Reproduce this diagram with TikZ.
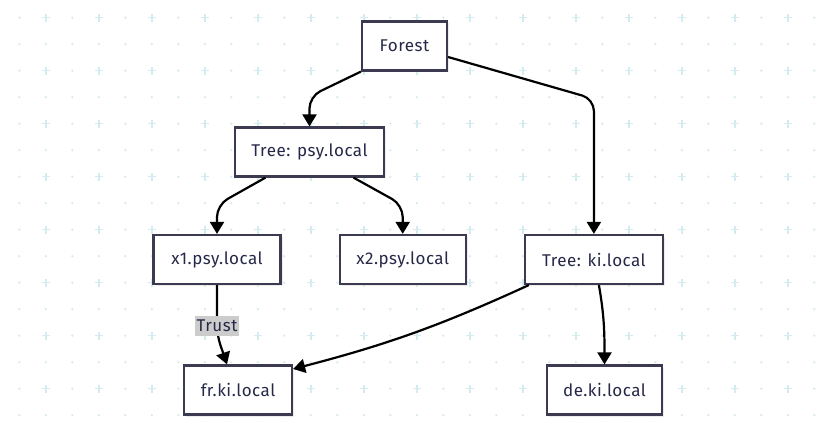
\documentclass[tikz,border=0pt]{standalone}
\usepackage{fontspec}
\setmainfont{Fira Sans}[LetterSpace=3]
\usetikzlibrary{arrows.meta,positioning,shadows}
\usepackage{xcolor}
\definecolor{gridteal}{RGB}{212,236,240}
\definecolor{boxline}{RGB}{60,58,80}
\definecolor{boxtext}{RGB}{38,40,72}
\definecolor{labelgray}{RGB}{204,204,204}

\begin{document}
\begin{tikzpicture}[x=1pt, y=1pt,
    dom/.style={rectangle, draw=boxline, line width=2.2pt, fill=white, minimum height=49pt, text=boxtext, font=\fontsize{17}{20}\selectfont, drop shadow={shadow xshift=2pt, shadow yshift=-2pt, fill=black!15, opacity=0.5}},
    link/.style={line width=2.2pt, -{Triangle[length=12pt, width=14pt]}},
    tag/.style={rectangle, sharp corners, fill=labelgray, text=boxtext, inner xsep=2pt, inner ysep=4pt, font=\fontsize{17}{20}\selectfont}
]
\useasboundingbox (0,0) rectangle (819,426);

% === RASTER (Hintergrund) ===
\foreach \i in {0,...,30}
    \foreach \j in {0,...,15}
        \fill[gridteal] (19.3+26.5*\i, 408.3-26.5*\j) circle (1.3);
\foreach \i in {0,...,14}
    \foreach \j in {0,...,7}
        \draw[gridteal, line width=1.5pt] (46+53*\i, 408.3-53*\j) ++(-4,0) -- ++(8,0) ++(-4,-4) -- ++(0,8);

% === FOREST & TREES ===
\node (forest) [dom, minimum width=85pt] at (404.5,380) {Forest};
\node (tpsy) [dom, minimum width=149pt] at (309.5,274) {Tree: psy.local};

% === HOSTS ===
\node (x1) [dom, minimum width=127pt] at (217,166.5) {x1.psy.local};
\node (x2) [dom, minimum width=126pt, right=57pt of x1] {x2.psy.local};
\node (tki) [dom, minimum width=138pt, right=57pt of x2] {Tree: ki.local};
\node (fr) [dom, minimum width=108pt] at (238,36) {fr.ki.local};
\node (de) [dom, minimum width=115pt] at (604.5,36) {de.ki.local};

% Verbindungen
\draw[link, rounded corners=12pt] (forest.south west) -- ([yshift=30pt]tpsy.north) -- (tpsy.north);
\draw[link, rounded corners=12pt] ([yshift=-11pt]forest.east) -- ([yshift=135pt]tki.north) -- (tki.north);
\draw[link, rounded corners=12pt] ([xshift=-44pt]tpsy.south) -- ([yshift=29pt]x1.north) -- (x1.north);
\draw[link, rounded corners=12pt] ([xshift=44pt]tpsy.south) -- ([yshift=29pt]x2.north) -- (x2.north);
\draw[link] ([xshift=5pt]tki.south west) to[bend left=5] ([yshift=21pt]fr.east);
\draw[link] ([xshift=5pt]tki.south) to[out=-80, in=90] (de.north);

% Trust
\draw[link, rounded corners=10pt] (x1.south) -- node[tag, pos=0.82] {Trust} ++(0,-50) -- ([xshift=-11pt]fr.north);

\end{tikzpicture}
\end{document}
